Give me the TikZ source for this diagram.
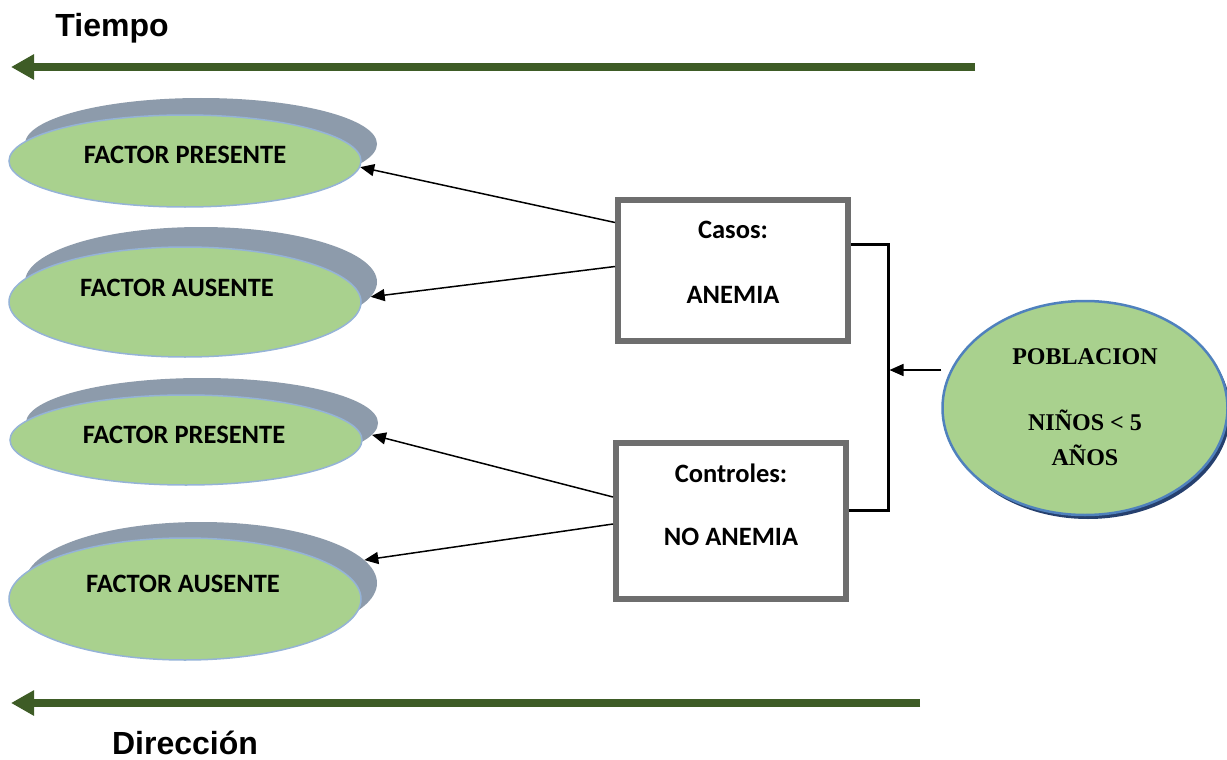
\documentclass[tikz,border=0pt]{standalone}
\usepackage{fontspec}
\setmainfont{Carlito}
\newfontfamily\arialfont{Liberation Sans}
\newfontfamily\cambriafont{Liberation Serif}
\usetikzlibrary{arrows.meta,shapes.geometric}
\definecolor{verdeosc}{RGB}{62,92,38}
\definecolor{verdeclaro}{RGB}{169,209,142}
\definecolor{azulborde}{RGB}{149,179,215}
\definecolor{grissombra}{RGB}{141,155,171}
\definecolor{griscaja}{RGB}{110,110,110}
\definecolor{azulpob}{RGB}{79,129,189}
\definecolor{azulsombra}{RGB}{38,64,110}
\tikzset{
  oval/.style={ellipse, fill=verdeclaro, draw=azulborde, line width=1.5pt, minimum width=352pt, inner sep=0pt},
  backoval/.style={ellipse, fill=grissombra, minimum width=352pt, inner sep=0pt},
  caja/.style={draw=griscaja, line width=6pt, minimum width=230pt, fill=white},
  etiq/.style={inner sep=0pt, font=\fontsize{26.5}{30}\selectfont\bfseries},
  pobtxt/.style={inner sep=0pt, font=\fontsize{24}{28}\selectfont\cambriafont\bfseries},
  flecha/.style={-{Triangle[length=14pt,width=12pt]}, line width=1.5pt},
  tiempo/.style={-{Triangle[length=23pt,width=24pt]}, line width=7.5pt, verdeosc},
}
\begin{document}
\begin{tikzpicture}[x=1pt, y=-1pt]
\useasboundingbox (0,0) rectangle (1227,760);
\node[inner sep=0pt, font=\fontsize{32}{36}\selectfont\arialfont\bfseries] (tiempo) at (112,28) {Tiempo};
\node[inner sep=0pt, font=\fontsize{32}{36}\selectfont\arialfont\bfseries] (direccion) at (185,743) {Dirección};
\coordinate (t1) at (975,67);
\coordinate (t2) at (11,67);
\coordinate (d1) at (920,703);
\coordinate (d2) at (11,703);
\draw[tiempo] (t1) -- (t2);
\draw[tiempo] (d1) -- (d2);

\node[backoval, minimum height=92pt] (s1) at (201,144) {};
\node[oval, minimum height=92pt] (e1) at (185,161) {};
\node[backoval, minimum height=110pt] (s2) at (201,282) {};
\node[oval, minimum height=110pt] (e2) at (185,302) {};
\node[backoval, minimum height=90pt] (s3) at (202,423) {};
\node[oval, minimum height=90pt] (e3) at (186,440) {};
\node[backoval, minimum height=122pt] (s4) at (201,583) {};
\node[oval, minimum height=122pt] (e4) at (185,599) {};
\node[etiq] (f1) at ([yshift=6pt]e1.center) {FACTOR PRESENTE};
\node[etiq] (f2) at ([yshift=14pt,xshift=-8pt]e2.center) {FACTOR AUSENTE};
\node[etiq] (f3) at ([yshift=5pt,xshift=-2pt]e3.center) {FACTOR PRESENTE};
\node[etiq] (f4) at ([yshift=15pt,xshift=-2pt]e4.center) {FACTOR AUSENTE};

\node[caja, minimum height=141pt] (casos) at (733,270.5) {};
\node[etiq] (casos1) at (733,230) {Casos:};
\node[etiq] (casos2) at (733,295) {ANEMIA};
\node[caja, minimum height=156pt] (controles) at (731,521) {};
\node[etiq] (control1) at (731,473) {Controles:};
\node[etiq] (control2) at (731,537) {NO ANEMIA};

\node[ellipse, fill=azulsombra, minimum width=285pt, minimum height=214pt, inner sep=0pt] (pobsh) at (1088,412) {};
\node[ellipse, fill=verdeclaro, draw=azulpob, line width=2.5pt, minimum width=285pt, minimum height=214pt, inner sep=0pt] (pob) at (1085,408) {};
\node[pobtxt] (pob1) at (1085,357) {POBLACION};
\node[pobtxt] (pob2) at (1085,420) {NIÑOS < 5};
\node[pobtxt] (pob3) at (1085,455) {AÑOS};

\draw[line width=3pt] ([yshift=26pt]casos.east) -- ++(37,0) coordinate (esq) |- ([yshift=11pt]controles.east);
\coordinate (brk) at (889.5,370);
\draw[flecha] (pob.west |- brk) -- (brk);

\draw[flecha] ([yshift=48pt]casos.west) -- (e1.-2);
\draw[flecha] ([yshift=4pt]casos.west) -- (s2.-5);
\draw[flecha] ([yshift=24pt]controles.west) -- (s3.-4);
\draw[flecha] ([yshift=-3pt]controles.west) -- (s4.8);
\end{tikzpicture}
\end{document}
